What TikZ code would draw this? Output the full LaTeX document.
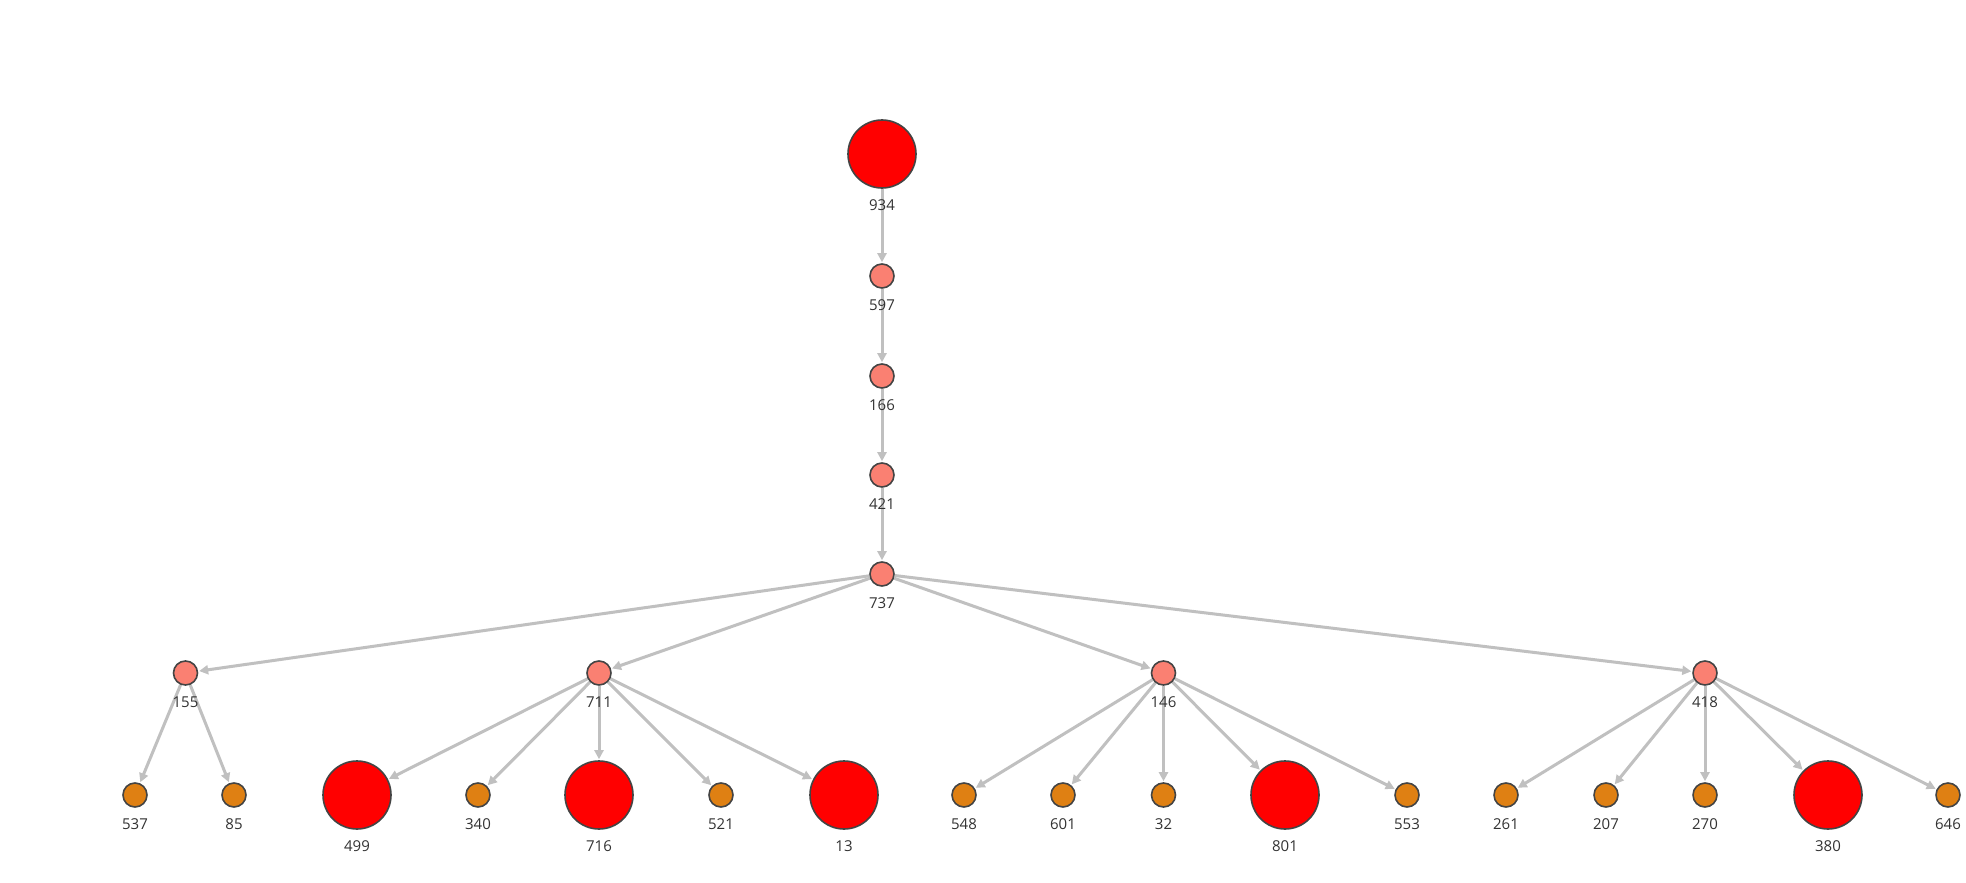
\documentclass[tikz,border=0pt]{standalone}
\usepackage{fontspec}
\setmainfont{Open Sans}
\usetikzlibrary{arrows.meta}
\pgfdeclarelayer{edgelayer}
\pgfsetlayers{edgelayer,main}
\definecolor{bigred}{HTML}{FF0000}
\definecolor{midsal}{HTML}{FA8072}
\definecolor{leaforg}{HTML}{DF8013}
\definecolor{edgegray}{HTML}{C0C0C0}
\definecolor{strokegray}{HTML}{444444}
\definecolor{txtgray}{HTML}{333333}
\tikzset{
  base/.style={circle, draw=strokegray, line width=1.6pt, inner sep=0pt,
    label={[label distance=11pt, inner sep=0pt, text=txtgray, font=\fontsize{15}{18}\selectfont]below:#1}},
  bignode/.style={base=#1, fill=bigred, minimum size=68pt},
  midnode/.style={base=#1, fill=midsal, minimum size=24pt},
  leafnode/.style={base=#1, fill=leaforg, minimum size=24pt},
  edge/.style={draw=edgegray, line width=3pt, -{Triangle[length=9pt,width=9pt]}, shorten >=1pt},
}
\begin{document}
\begin{tikzpicture}[x=1pt,y=-1pt]
\path[use as bounding box] (0,0) rectangle (1966,883);
% nodes
\node[bignode=934] (n934) at (882,154) {};
\node[midnode=597] (n597) at (882,276) {};
\node[midnode=166] (n166) at (882,376) {};
\node[midnode=421] (n421) at (882,475) {};
\node[midnode=737] (n737) at (882,574) {};
\node[midnode=155] (n155) at (185.5,673) {};
\node[midnode=711] (n711) at (599,673) {};
\node[midnode=146] (n146) at (1163.5,673) {};
\node[midnode=418] (n418) at (1705,673) {};
\node[leafnode=537] (n537) at (135,795) {};
\node[leafnode=85] (n85) at (234,795) {};
\node[bignode=499] (n499) at (357,795) {};
\node[leafnode=340] (n340) at (478,795) {};
\node[bignode=716] (n716) at (599,795) {};
\node[leafnode=521] (n521) at (721,795) {};
\node[bignode=13] (n13) at (844,795) {};
\node[leafnode=548] (n548) at (964,795) {};
\node[leafnode=601] (n601) at (1063,795) {};
\node[leafnode=32] (n32) at (1163.5,795) {};
\node[bignode=801] (n801) at (1285,795) {};
\node[leafnode=553] (n553) at (1407,795) {};
\node[leafnode=261] (n261) at (1506,795) {};
\node[leafnode=207] (n207) at (1606,795) {};
\node[leafnode=270] (n270) at (1705,795) {};
\node[bignode=380] (n380) at (1828,795) {};
\node[leafnode=646] (n646) at (1948,795) {};
% edges
\begin{pgfonlayer}{edgelayer}
\fill[white] (0,0) rectangle (1966,883);
\path[edge] (n934) -- (n597);
\path[edge] (n597) -- (n166);
\path[edge] (n166) -- (n421);
\path[edge] (n421) -- (n737);
\foreach \t in {n155,n711,n146,n418} \path[edge] (n737) -- (\t);
\foreach \t in {n537,n85} \path[edge] (n155) -- (\t);
\foreach \t in {n499,n340,n716,n521,n13} \path[edge] (n711) -- (\t);
\foreach \t in {n548,n601,n32,n801,n553} \path[edge] (n146) -- (\t);
\foreach \t in {n261,n207,n270,n380,n646} \path[edge] (n418) -- (\t);
\end{pgfonlayer}
\end{tikzpicture}
\end{document}
